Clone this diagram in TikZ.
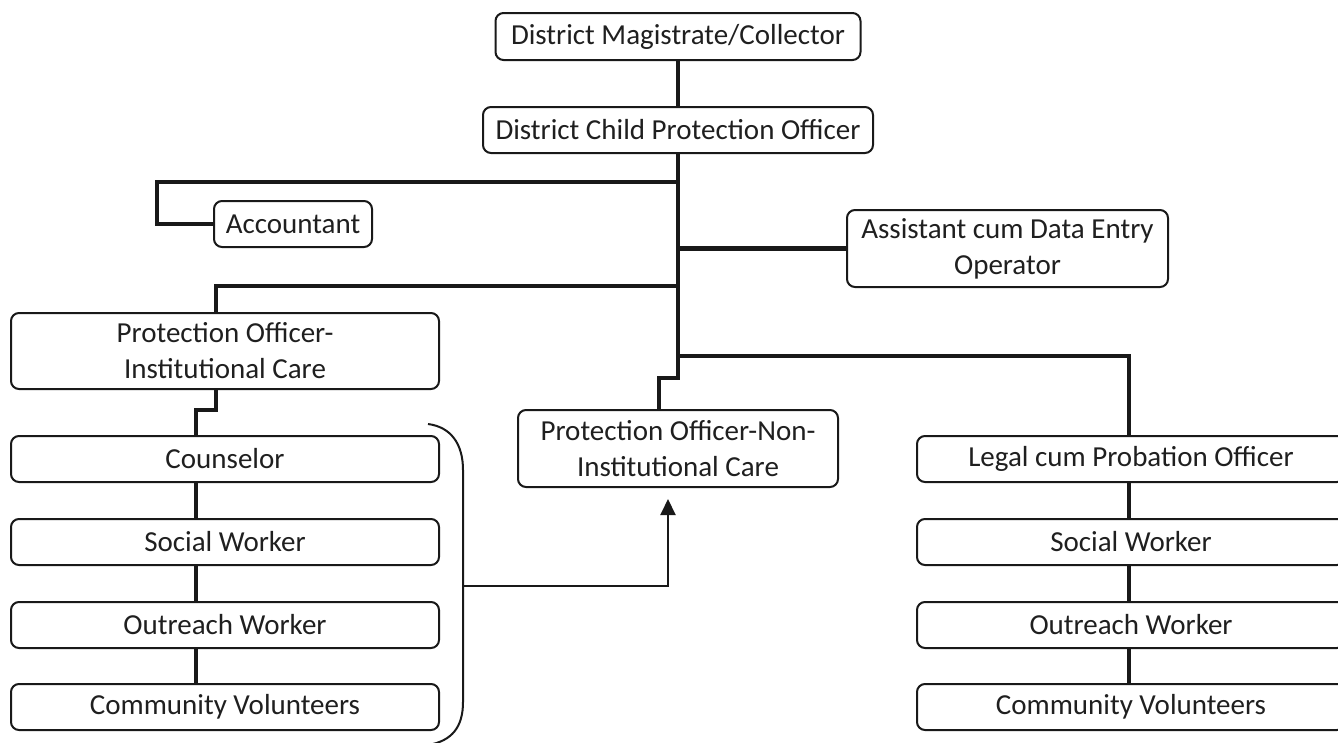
\documentclass[tikz,border=0pt]{standalone}
\usepackage{fontspec}
\setmainfont{Carlito}
\usetikzlibrary{arrows.meta}
\begin{document}
\begin{tikzpicture}[x=1pt,y=-1pt,
  box/.style={draw=black!90, line width=2pt, rounded corners=8pt, inner sep=0pt,
    align=center, text=black!88, font=\fontsize{29}{36}\selectfont},
  row/.style={box, minimum width=428, minimum height=46},
  link/.style={draw=black!90, line width=4.5pt},
  fine/.style={draw=black!90, line width=2pt}
]
\useasboundingbox (0,0) rectangle (1338,742);

% management
\node[box, minimum width=365, minimum height=47] (dm) at (678,36.5) {District Magistrate/Collector};
\node[box, minimum width=390, minimum height=46] (dcpo) at (678,130) {District Child Protection Officer};
\node[box, minimum width=158, minimum height=46] (acc) at (293,224) {Accountant};
\node[box, minimum width=321, minimum height=77] (ade) at (1007.5,248.5) {Assistant cum Data Entry\\Operator};
\node[box, minimum width=428, minimum height=76] (poic) at (225,351) {Protection Officer-\\Institutional Care};
\node[box, minimum width=320, minimum height=77] (ponic) at (678,448.5) {Protection Officer-Non-\\Institutional Care};

% institutional care column
\node[row] (couns) at (225,459) {Counselor};
\node[row] (lsw) at (225,542) {Social Worker};
\node[row] (low) at (225,625) {Outreach Worker};
\node[row] (lcv) at (225,707) {Community Volunteers};

% legal / probation column
\node[row] (legal) at (1131,459) {Legal cum Probation Officer};
\node[row] (rsw) at (1131,542) {Social Worker};
\node[row] (row) at (1131,625) {Outreach Worker};
\node[row] (rcv) at (1131,707) {Community Volunteers};

% bend points
\coordinate (accbend) at (157,182);
\coordinate (poicbend) at (216,286);
\coordinate (legbend) at (1129,356);
\coordinate (trunkstep) at (659,378);
\coordinate (pstep) at (216,410);
\coordinate (pstepl) at (196,410);
\coordinate (lx) at (196,0);
\coordinate (rx) at (1129,0);

% hierarchy links
\draw[link] (dm.south) -- (dcpo.north);
\draw[link] (dcpo.south) -- (dcpo.south |- trunkstep) -- (trunkstep) -- (trunkstep |- ponic.north);
\draw[link] (accbend -| dcpo.south) -- (accbend) |- (acc.west);
\draw[link] (ade.west -| dcpo.south) -- (ade.west);
\draw[link] (poicbend -| dcpo.south) -- (poicbend) -- (poicbend |- poic.north);
\draw[link] (legbend -| dcpo.south) -- (legbend) -- (legbend |- legal.north);
\draw[link] (pstep |- poic.south) -- (pstep) -- (pstepl) -- (pstepl |- couns.north);
\draw[link] (couns.south -| lx) -- (lsw.north -| lx);
\draw[link] (lsw.south -| lx) -- (low.north -| lx);
\draw[link] (low.south -| lx) -- (lcv.north -| lx);
\draw[link] (legal.south -| rx) -- (rsw.north -| rx);
\draw[link] (rsw.south -| rx) -- (row.north -| rx);
\draw[link] (row.south -| rx) -- (rcv.north -| rx);

% bracket grouping the institutional staff
\coordinate (bmid) at (463,586);
\coordinate (atip) at (668,499);
\draw[fine] (428,424) .. controls (451,427) and (463,444) .. (463,470) -- (463,702)
  .. controls (463,727) and (452,741) .. (428,745);
\draw[fine, -{Triangle[length=16pt,width=15pt]}] (bmid) -| (atip);
\end{tikzpicture}
\end{document}
